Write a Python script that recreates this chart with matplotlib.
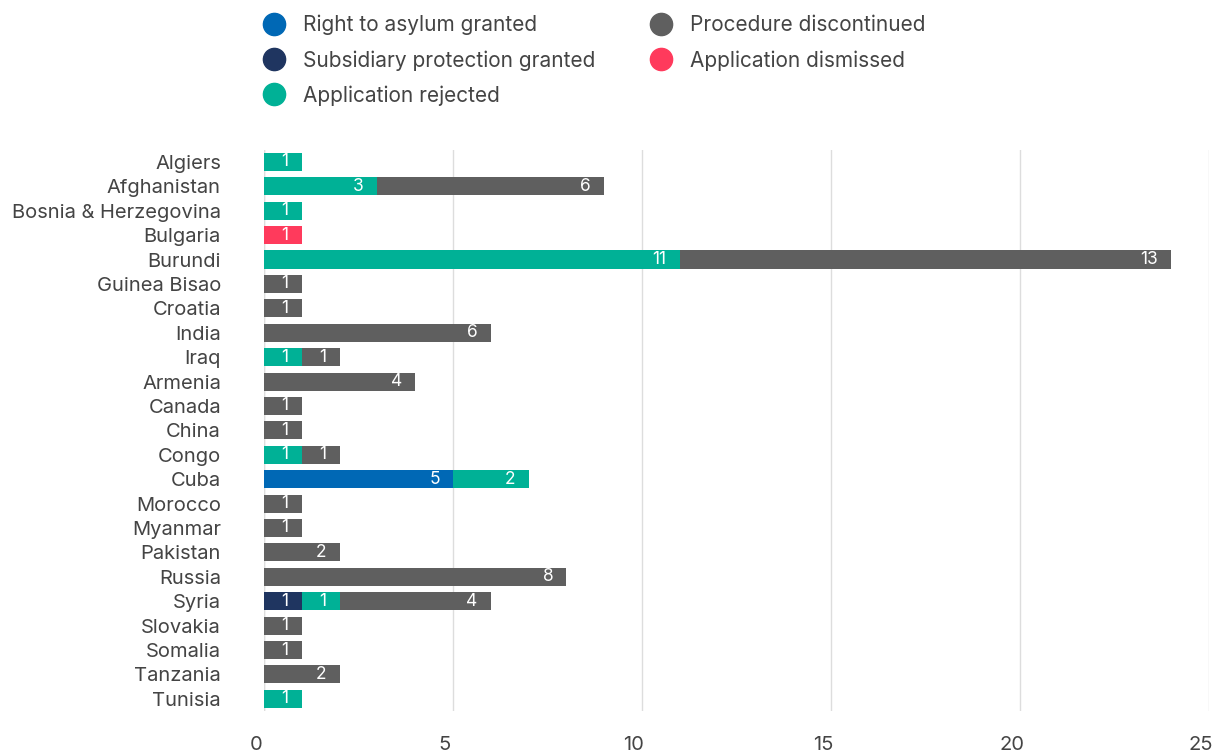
import matplotlib.pyplot as plt
import matplotlib.transforms as mtransforms
import numpy as np

plt.rcParams['font.family'] = ['Inter', 'DejaVu Sans']

countries = ["Algiers", "Afghanistan", "Bosnia & Herzegovina", "Bulgaria", "Burundi",
             "Guinea Bisao", "Croatia", "India", "Iraq", "Armenia", "Canada", "China",
             "Congo", "Cuba", "Morocco", "Myanmar", "Pakistan", "Russia", "Syria",
             "Slovakia", "Somalia", "Tanzania", "Tunisia"]

asylum       = [0, 0, 0, 0, 0,  0, 0, 0, 0, 0, 0, 0, 0, 5, 0, 0, 0, 0, 0, 0, 0, 0, 0]
subsidiary   = [0, 0, 0, 0, 0,  0, 0, 0, 0, 0, 0, 0, 0, 0, 0, 0, 0, 0, 1, 0, 0, 0, 0]
rejected     = [1, 3, 1, 0, 11, 0, 0, 0, 1, 0, 0, 0, 1, 2, 0, 0, 0, 0, 1, 0, 0, 0, 1]
discontinued = [0, 6, 0, 0, 13, 1, 1, 6, 1, 4, 1, 1, 1, 0, 1, 1, 2, 8, 4, 1, 1, 2, 0]
dismissed    = [0, 0, 0, 1, 0,  0, 0, 0, 0, 0, 0, 0, 0, 0, 0, 0, 0, 0, 0, 0, 0, 0, 0]

series = [
    ("Right to asylum granted", asylum, "#0068b5"),
    ("Subsidiary protection granted", subsidiary, "#1f3560"),
    ("Application rejected", rejected, "#00b196"),
    ("Procedure discontinued", discontinued, "#5f5f5f"),
    ("Application dismissed", dismissed, "#ff3a5c"),
]

text_col = "#444444"
fig = plt.figure(figsize=(12.13, 7.56), dpi=100)
ax = fig.add_axes([0.2176, 0.0595, 0.7791, 0.7425])

y = np.arange(len(countries))
left = np.zeros(len(countries))
handles = []
for name, vals, col in series:
    vals = np.array(vals, dtype=float)
    ax.barh(y, vals, left=left, height=0.74, color=col, zorder=3)
    for yi, (l, v) in enumerate(zip(left, vals)):
        if v > 0:
            ax.text(l + v - 0.35, yi, f"{int(v)}", ha="right", va="center",
                    color="white", fontsize=12.5, zorder=4)
    left += vals
    handles.append(plt.Line2D([], [], marker="o", linestyle="none", markersize=16,
                              markerfacecolor=col, markeredgecolor=col, label=name))

ax.set_xlim(0, 25)
ax.set_ylim(len(countries) - 0.5, -0.5)
ax.set_yticks(y)
ax.set_yticklabels(countries, fontsize=14.5, color=text_col)
ax.set_xticks([0, 5, 10, 15, 20, 25])
ax.tick_params(axis="both", length=0)
ax.tick_params(axis="x", pad=18, labelsize=14.5, labelcolor=text_col)
ax.tick_params(axis="y", pad=31)
# x tick labels sit a little left of their gridlines
shift = mtransforms.ScaledTranslation(-0.08, 0, fig.dpi_scale_trans)
for lbl in ax.get_xticklabels():
    lbl.set_transform(lbl.get_transform() + shift)
ax.grid(axis="x", color="#dddddd", linewidth=1, zorder=0)
ax.axvline(0, color="#dddddd", linewidth=1, zorder=0)
for s in ax.spines.values():
    s.set_visible(False)

fig.legend(handles=handles, ncol=2, loc="upper left", bbox_to_anchor=(0.193, 1.005),
           frameon=False, fontsize=15, labelcolor=text_col, handletextpad=0.4,
           columnspacing=2.15, labelspacing=0.7)

fig.savefig("out.png", dpi=100)
